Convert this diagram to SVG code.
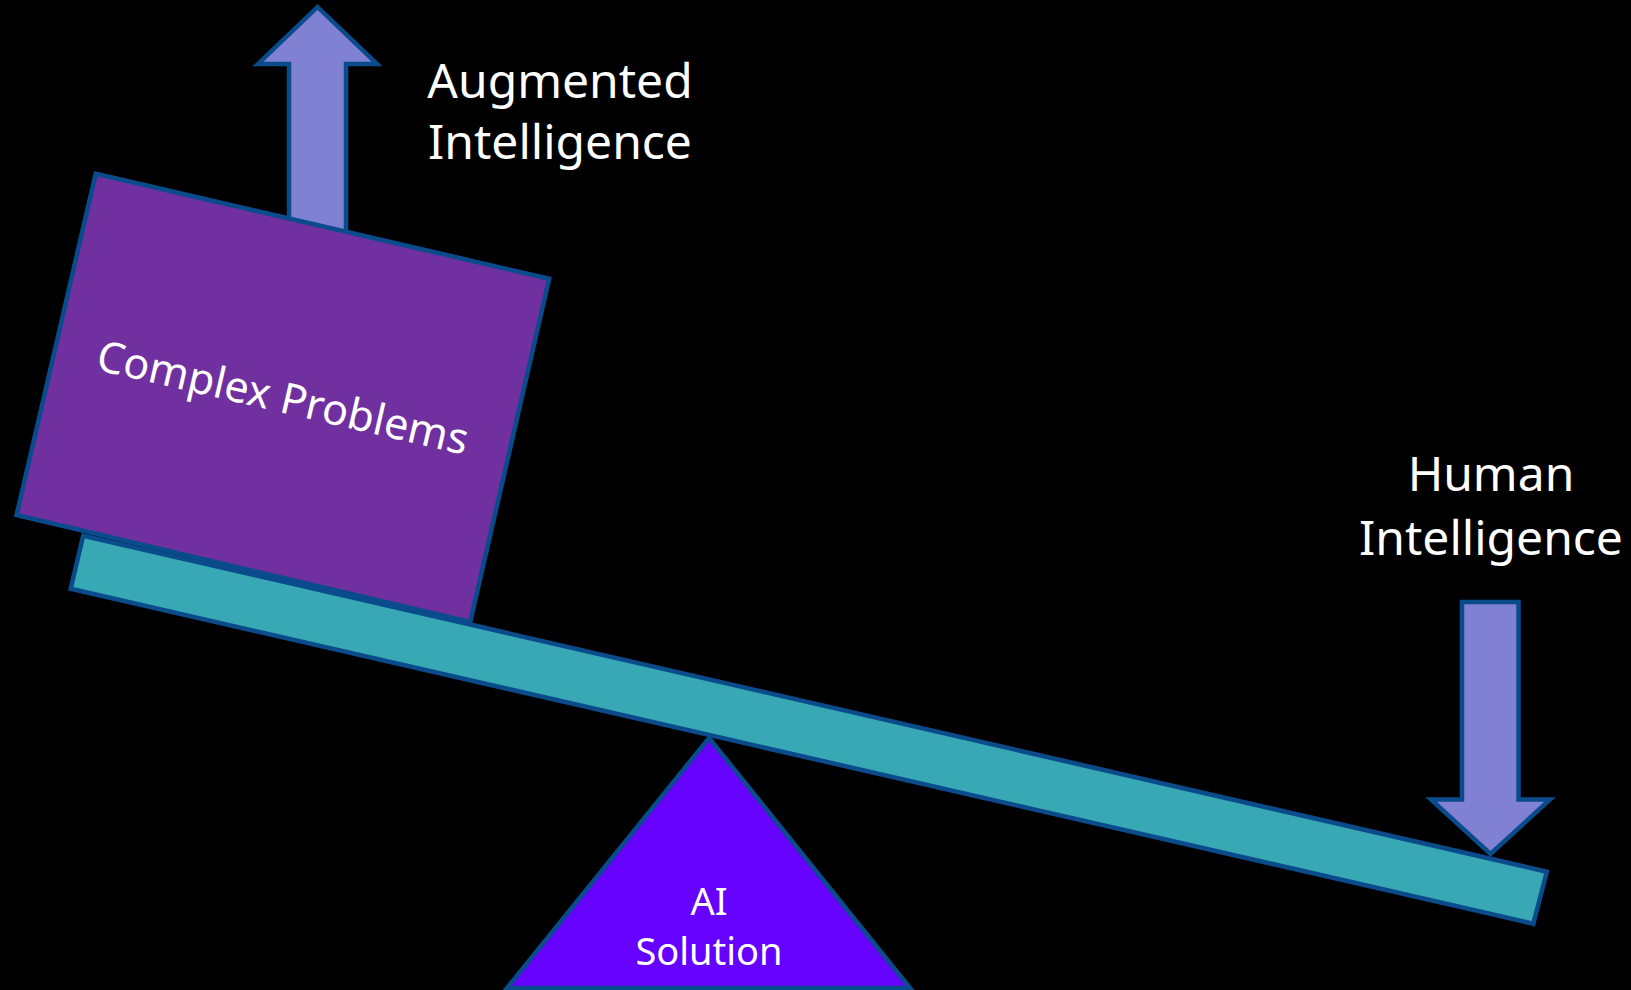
<svg xmlns="http://www.w3.org/2000/svg" width="1631" height="990" viewBox="0 0 1631 990">
  <style>
    .shape { stroke: #0A4B8C; stroke-width: 4.5; stroke-linejoin: miter; }
    .arrow { fill: #8181D4; }
    .lbl { fill: #FFFFFF; font-family: "Noto Sans", "Open Sans", sans-serif; text-anchor: middle; }
  </style>
  <rect x="0" y="0" width="1631" height="990" fill="#000000"/>
  <g id="fulcrum">
    <polygon class="shape" fill="#6600FF" points="709,738 910,988 507,988"/>
    <text class="lbl" x="709" y="915" font-size="38">AI</text>
    <text class="lbl" x="709" y="965" font-size="38">Solution</text>
  </g>
  <g id="plank">
    <polygon class="shape" fill="#38A9B4" points="83.2,535.7 1546.8,871.7 1533.3,923.7 70.7,588.8"/>
  </g>
  <g id="connectors">
    <polygon id="up-arrow" class="shape arrow" points="317.5,7 377,64 346,64 346,270 289,270 289,64 258,64"/>
    <polygon id="down-arrow" class="shape arrow" points="1462,602 1518.5,602 1518.5,799.5 1550,799.5 1490.5,854 1431,799.5 1462,799.5"/>
  </g>
  <g id="complex-problems">
    <polygon class="shape" fill="#7030A0" points="95.7,173.7 549.2,278.8 470.2,622 16.6,515"/>
    <text class="lbl" x="282.9" y="412.5" font-size="43" transform="rotate(13 282.9 397.4)">Complex Problems</text>
  </g>
  <g id="augmented-intelligence">
    <text class="lbl" x="560" y="97.5" font-size="48">Augmented</text>
    <text class="lbl" x="560" y="159" font-size="48">Intelligence</text>
  </g>
  <g id="human-intelligence">
    <text class="lbl" x="1491" y="491" font-size="48">Human</text>
    <text class="lbl" x="1491" y="555" font-size="48">Intelligence</text>
  </g>
</svg>
